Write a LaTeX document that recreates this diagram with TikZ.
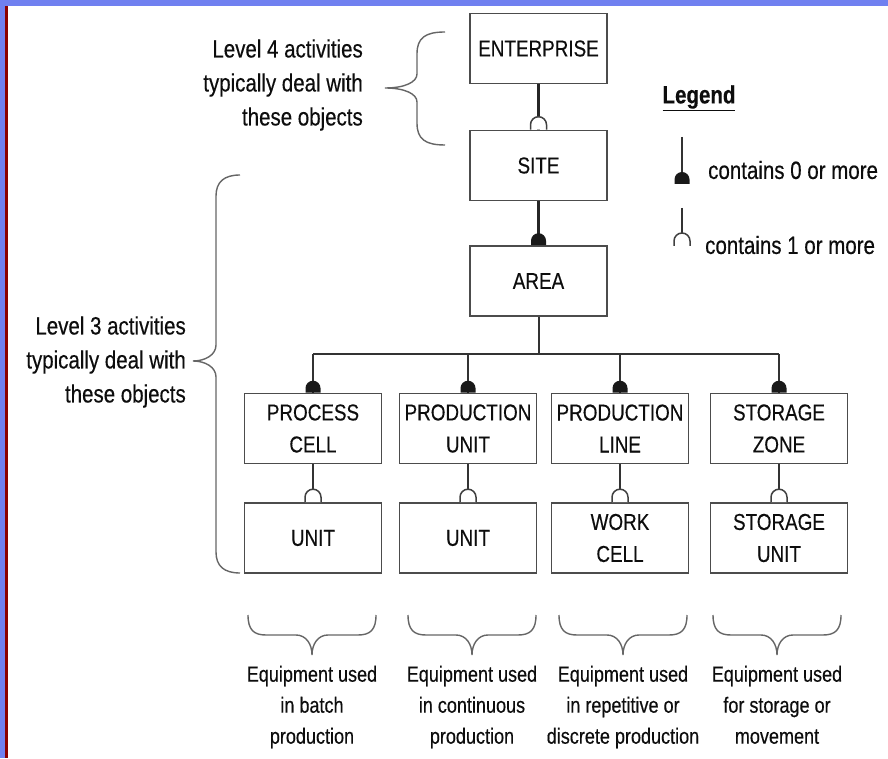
\documentclass[tikz,border=0pt]{standalone}
\usepackage{fontspec}
\setmainfont{Liberation Sans}[FakeStretch=0.82, FakeBold=0.35]
\usepackage{xcolor}
\usepackage{tikz}
\usetikzlibrary{arrows.meta}

\definecolor{framebl}{RGB}{112,128,240}
\definecolor{framerd}{RGB}{140,0,0}
\newcommand{\boxfont}{\fontsize{23}{32}\selectfont}
\newcommand{\notefont}{\fontsize{25}{34}\selectfont}
\newcommand{\equipfont}{\fontsize{22}{31}\selectfont}

\tikzset{
    zerodome/.pic={\fill[black!90] (-7.5,0) -- (-7.5,4.5) arc[start angle=180, end angle=0, radius=7.5] -- (7.5,0) -- cycle;},
    onedome/.pic={\draw[black!75, line width=1.5pt, fill=white] (-8,0) -- (-8,5) arc[start angle=180, end angle=0, radius=8] -- (8,0);}
}

\begin{document}
\begin{tikzpicture}[
    x=1pt, y=1pt,
    obj/.style={draw=black!70, fill=white, line width=1.6pt, minimum width=137pt, minimum height=70pt, inner sep=0pt, align=center, font=\boxfont, text=black!95},
    note/.style={inner sep=0pt, align=right, font=\notefont, text=black!95},
    equip/.style={inner sep=0pt, align=center, font=\equipfont, text=black!95},
    legtext/.style={inner sep=0pt, anchor=west, font=\notefont, text=black!95},
    link/.style={line width=2pt, draw=black!80},
    heavylink/.style={line width=3pt, draw=black!85},
    brc/.style={line width=1.4pt, draw=black!60}
]
    \useasboundingbox (0,0) rectangle (888,758);
    \fill[white] (0,0) rectangle (888,758);

    % Frame
    \fill[framebl] (0,752) rectangle (888,758);
    \fill[framebl] (0,0) rectangle (5,752);
    \fill[framerd] (5,0) rectangle (8,752);

    % Upper levels
    \node[obj] (enterprise) at (538.5,709.5) {ENTERPRISE};
    \node[obj] (site) at (538.5,592.5) {SITE};
    \node[obj] (area) at (538.5,477) {AREA};

    % Lower levels
    \node[obj] (pcell) at (313,329.5) {PROCESS\\CELL};
    \node[obj] (punit) at (468,329.5) {PRODUCTION\\UNIT};
    \node[obj] (pline) at (620,329.5) {PRODUCTION\\LINE};
    \node[obj] (szone) at (779,329.5) {STORAGE\\ZONE};
    \node[obj] (unitA) at (313,220) {UNIT};
    \node[obj] (unitB) at (468,220) {UNIT};
    \node[obj] (wcell) at (620,220) {WORK\\CELL};
    \node[obj] (sunit) at (779,220) {STORAGE\\UNIT};

    % Connections
    \draw[heavylink] (enterprise) -- (site);
    \draw[heavylink] (site) -- (area);
    \coordinate (bus) at (538.5,404);
    \coordinate (b1) at (313,404);
    \coordinate (b2) at (468,404);
    \coordinate (b3) at (620,404);
    \coordinate (b4) at (779,404);
    \draw[link] (area) -- (bus);
    \draw[link] (b1) -- (b4);
    \draw[link] (b1) -- (pcell);
    \draw[link] (b2) -- (punit);
    \draw[link] (b3) -- (pline);
    \draw[link] (b4) -- (szone);
    \draw[link, line width=1.6pt] (pcell) -- (unitA);
    \draw[link, line width=1.6pt] (punit) -- (unitB);
    \draw[link, line width=1.6pt] (pline) -- (wcell);
    \draw[link, line width=1.6pt] (szone) -- (sunit);

    % Cardinality marks
    \pic at (site.north) {onedome};
    \pic at (area.north) {zerodome};
    \pic at (pcell.north) {zerodome};
    \pic at (punit.north) {zerodome};
    \pic at (pline.north) {zerodome};
    \pic at (szone.north) {zerodome};
    \pic at (unitA.north) {onedome};
    \pic at (unitB.north) {onedome};
    \pic at (wcell.north) {onedome};
    \pic at (sunit.north) {onedome};

    % Legend
    \node[font=\notefont\bfseries, text=black!95, inner sep=0pt] (legend) at (699,660) {\underline{Legend}};
    \coordinate (k0a) at (682,621);
    \coordinate (k0b) at (682,574);
    \draw[link, line width=2.5pt] (k0a) -- (k0b);
    \pic at (k0b) {zerodome};
    \node[legtext] (k0txt) at (708,588) {contains 0 or more};
    \coordinate (k1a) at (682,550);
    \coordinate (k1b) at (682,512);
    \draw[link, line width=1.5pt] (k1a) -- (k1b);
    \pic at (k1b) {onedome};
    \node[legtext] (k1txt) at (705,513) {contains 1 or more};

    % Level notes and braces
    \node[note, anchor=east] (lvl4) at (363,673) {Level 4 activities\\typically deal with\\these objects};
    \draw[brc] (445,726) .. controls (425,726) and (417,720) .. (417,704) -- (417,684)
        .. controls (417,676) and (405,670) .. (385,670)
        .. controls (405,670) and (417,664) .. (417,656) -- (417,635)
        .. controls (417,619) and (425,613) .. (445,613);
    \node[note, anchor=east] (lvl3) at (186,396) {Level 3 activities\\typically deal with\\these objects};
    \draw[brc] (240,583) .. controls (224,583) and (216,576) .. (216,562) -- (216,413)
        .. controls (216,403) and (205,397) .. (193,397)
        .. controls (205,397) and (216,391) .. (216,381) -- (216,206)
        .. controls (216,192) and (224,185) .. (240,185);

    % Equipment notes
    \foreach \c in {312,472,623,777}
        \draw[brc] ({\c-64},143) .. controls ({\c-64},128) and ({\c-58},123) .. ({\c-46},123) -- ({\c-16},123)
            .. controls ({\c-6},123) and (\c,114) .. (\c,103)
            .. controls (\c,114) and ({\c+6},123) .. ({\c+16},123) -- ({\c+46},123)
            .. controls ({\c+58},123) and ({\c+64},128) .. ({\c+64},143);
    \node[equip] (eq1) at (312,51) {Equipment used\\in batch\\production};
    \node[equip] (eq2) at (472,51) {Equipment used\\in continuous\\production};
    \node[equip] (eq3) at (623,51) {Equipment used\\in repetitive or\\discrete production};
    \node[equip] (eq4) at (777,51) {Equipment used\\for storage or\\movement\vphantom{p}};

\end{tikzpicture}
\end{document}
